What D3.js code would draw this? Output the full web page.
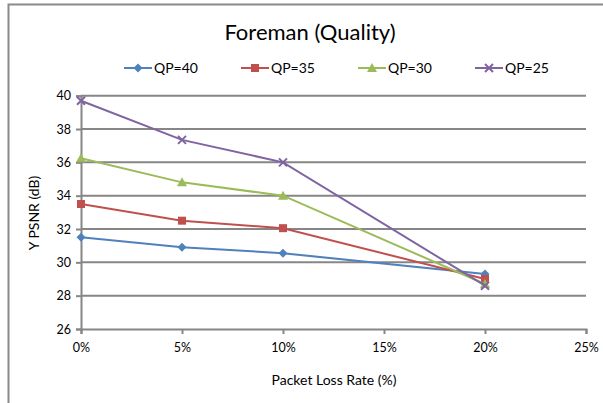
<!DOCTYPE html>
<html>
<head>
<meta charset="utf-8">
<script src="https://cdn.jsdelivr.net/npm/d3@7"></script>
<style>
  html, body { margin: 0; padding: 0; background: #fff; }
  svg { display: block; }
  text { font-family: Lato, "Open Sans", sans-serif; fill: #000; }
</style>
</head>
<body>
<svg id="chart" width="603" height="403"></svg>
<script>
// Packet loss rates (x) and Y-PSNR per quantisation parameter
const lossRates = [0, 5, 10, 20];
const qp40 = [31.5, 30.9, 30.55, 29.3];
const qp35 = [33.5, 32.5, 32.05, 29.0];
const qp30 = [36.25, 34.8, 34.0, 28.7];
const qp25 = [39.7, 37.35, 36.0, 28.6];
const seriesNames = ["QP=40", "QP=35", "QP=30", "QP=25"];
const xTicks = [0, 5, 10, 15, 20, 25];
const yTicks = [26, 28, 30, 32, 34, 36, 38, 40];

const series = [
  { name: seriesNames[0], values: qp40, color: "#4F81BD", marker: "diamond" },
  { name: seriesNames[1], values: qp35, color: "#C0504D", marker: "square" },
  { name: seriesNames[2], values: qp30, color: "#9BBB59", marker: "triangle" },
  { name: seriesNames[3], values: qp25, color: "#8064A2", marker: "x" }
];

const svg = d3.select("#chart");
const gridColor = "#868686";

// chart-area frame
svg.append("rect")
  .attr("x", 8.5).attr("y", 4.5)
  .attr("width", 620).attr("height", 420)
  .attr("fill", "none").attr("stroke", "#8a8a8a").attr("stroke-width", 2);

const x = d3.scaleLinear().domain([0, 25]).range([81, 586]);
const y = d3.scaleLinear().domain([26, 40]).range([329, 95.7]);

// horizontal gridlines
svg.append("g").selectAll("line").data(yTicks.slice(1)).join("line")
  .attr("x1", x(0)).attr("x2", x(25))
  .attr("y1", d => y(d)).attr("y2", d => y(d))
  .attr("stroke", gridColor).attr("stroke-width", 2);

// y axis
const yAxis = svg.append("g").attr("transform", `translate(${x(0)},0)`)
  .call(d3.axisLeft(y).tickValues(yTicks).tickSize(5).tickPadding(5).tickFormat(d3.format("d")));
yAxis.select(".domain").attr("stroke", gridColor).attr("stroke-width", 2);
yAxis.selectAll(".tick line").attr("stroke", gridColor).attr("stroke-width", 2);
yAxis.selectAll(".tick text").attr("font-size", 12.5).attr("font-family", "Lato, sans-serif").attr("fill", "#000");

// x axis
const xAxis = svg.append("g").attr("transform", `translate(0,${y(26)})`)
  .call(d3.axisBottom(x).tickValues(xTicks).tickSize(5).tickPadding(9).tickFormat(d => d + "%"));
xAxis.select(".domain").attr("stroke", gridColor).attr("stroke-width", 2);
xAxis.selectAll(".tick line").attr("stroke", gridColor).attr("stroke-width", 2);
xAxis.selectAll(".tick text").attr("font-size", 12.5).attr("font-family", "Lato, sans-serif").attr("fill", "#000");

// markers
function drawMarker(g, type, color, cx, cy) {
  if (type === "diamond") {
    g.append("path").attr("d", `M${cx},${cy - 4.5}L${cx + 4.5},${cy}L${cx},${cy + 4.5}L${cx - 4.5},${cy}Z`).attr("fill", color);
  } else if (type === "square") {
    g.append("rect").attr("x", cx - 4).attr("y", cy - 4).attr("width", 8).attr("height", 8).attr("fill", color);
  } else if (type === "triangle") {
    g.append("path").attr("d", `M${cx},${cy - 5}L${cx + 5},${cy + 4}L${cx - 5},${cy + 4}Z`).attr("fill", color);
  } else {
    g.append("path").attr("d", `M${cx - 4},${cy - 4}L${cx + 4},${cy + 4}M${cx + 4},${cy - 4}L${cx - 4},${cy + 4}`)
      .attr("stroke", color).attr("stroke-width", 2);
  }
}

const line = d3.line().x(d => x(d[0])).y(d => y(d[1]));
series.forEach(s => {
  const pts = lossRates.map((r, i) => [r, s.values[i]]);
  const g = svg.append("g");
  g.append("path").attr("d", line(pts)).attr("fill", "none")
    .attr("stroke", s.color).attr("stroke-width", 2);
  pts.forEach(p => drawMarker(g, s.marker, s.color, x(p[0]), y(p[1])));
});

// title
svg.append("text").attr("x", 310).attr("y", 40).attr("text-anchor", "middle")
  .attr("font-size", 22).text("Foreman (Quality)");

// legend
const legend = svg.append("g");
series.forEach((s, i) => {
  const lx = 124 + i * 117, ly = 68;
  legend.append("line").attr("x1", lx).attr("x2", lx + 28).attr("y1", ly).attr("y2", ly)
    .attr("stroke", s.color).attr("stroke-width", 2);
  drawMarker(legend, s.marker, s.color, lx + 14, ly);
  legend.append("text").attr("x", lx + 30).attr("y", ly + 5).attr("font-size", 14).text(s.name);
});

// axis titles
svg.append("text").attr("transform", "translate(39,213) rotate(-90)").attr("text-anchor", "middle")
  .attr("font-size", 14).text("Y PSNR (dB)");
svg.append("text").attr("x", 334).attr("y", 385).attr("text-anchor", "middle")
  .attr("font-size", 14).text("Packet Loss Rate (%)");
</script>
</body>
</html>
